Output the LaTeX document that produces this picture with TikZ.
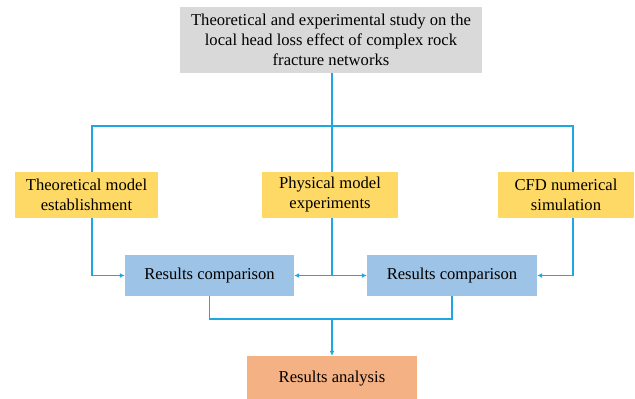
\documentclass[tikz,border=0pt]{standalone}
\usepackage{fontspec}
\setmainfont{Liberation Serif}
\usetikzlibrary{arrows.meta}
\definecolor{linec}{RGB}{30,168,225}
\definecolor{grayf}{RGB}{217,217,217}
\definecolor{yellowf}{RGB}{255,217,102}
\definecolor{bluef}{RGB}{157,195,230}
\definecolor{orangef}{RGB}{244,177,131}
\tikzset{
  box/.style={inner sep=0pt, align=center, font=\fontsize{16.6}{20}\selectfont, text=black},
  conn/.style={draw=linec, line width=1.2pt},
  arr/.style={conn, -{Latex[length=5pt,width=5pt]}},
}
\begin{document}
\begin{tikzpicture}[x=1pt,y=-1pt]
\useasboundingbox (0,0) rectangle (635,399);
\node[box, fill=grayf, minimum width=302pt, minimum height=66pt] (top) at (331,40)
  {Theoretical and experimental study on the\\local head loss effect of complex rock\\fracture networks};
\node[box, fill=yellowf, minimum width=143pt, minimum height=46pt] (ya) at (86.5,195)
  {Theoretical model\\establishment};
\node[box, fill=yellowf, minimum width=136pt, minimum height=46pt] (yb) at (330,195)
  {Physical model\\experiments};
\node[box, fill=yellowf, minimum width=136pt, minimum height=46pt] (yc) at (566,195)
  {CFD numerical\\simulation};
\node[box, fill=bluef, minimum width=169pt, minimum height=41pt] (ba) at (209.5,275.5)
  {Results comparison};
\node[box, fill=bluef, minimum width=170pt, minimum height=41pt] (bb) at (452,275.5)
  {Results comparison};
\node[box, fill=orangef, minimum width=170pt, minimum height=46pt] (res) at (332,379)
  {Results analysis};
\coordinate (tl) at (92,126);
\coordinate (tr) at (573,126);
\coordinate (tm) at (332,126);
\coordinate (mj) at (332,275.5);
\coordinate (bj) at (332,319);
% top distribution
\draw[conn] (top.south -| tm) -- (tm);
\draw[conn] (tl |- ya.north) -- (tl) -- (tr) -- (tr |- yc.north);
\draw[conn] (tm) -- (tm |- yb.north);
% yellow to blue
\draw[arr] (tl |- ya.south) |- (ba.west);
\draw[arr] (tr |- yc.south) |- (bb.east);
\draw[conn] (tm |- yb.south) -- (mj);
\draw[arr] (mj) -- (ba.east);
\draw[arr] (mj) -- (bb.west);
% blue to result
\draw[conn] (ba.south) |- (bj) -| (bb.south);
\draw[arr] (bj) -- (res.north);
\end{tikzpicture}
\end{document}
